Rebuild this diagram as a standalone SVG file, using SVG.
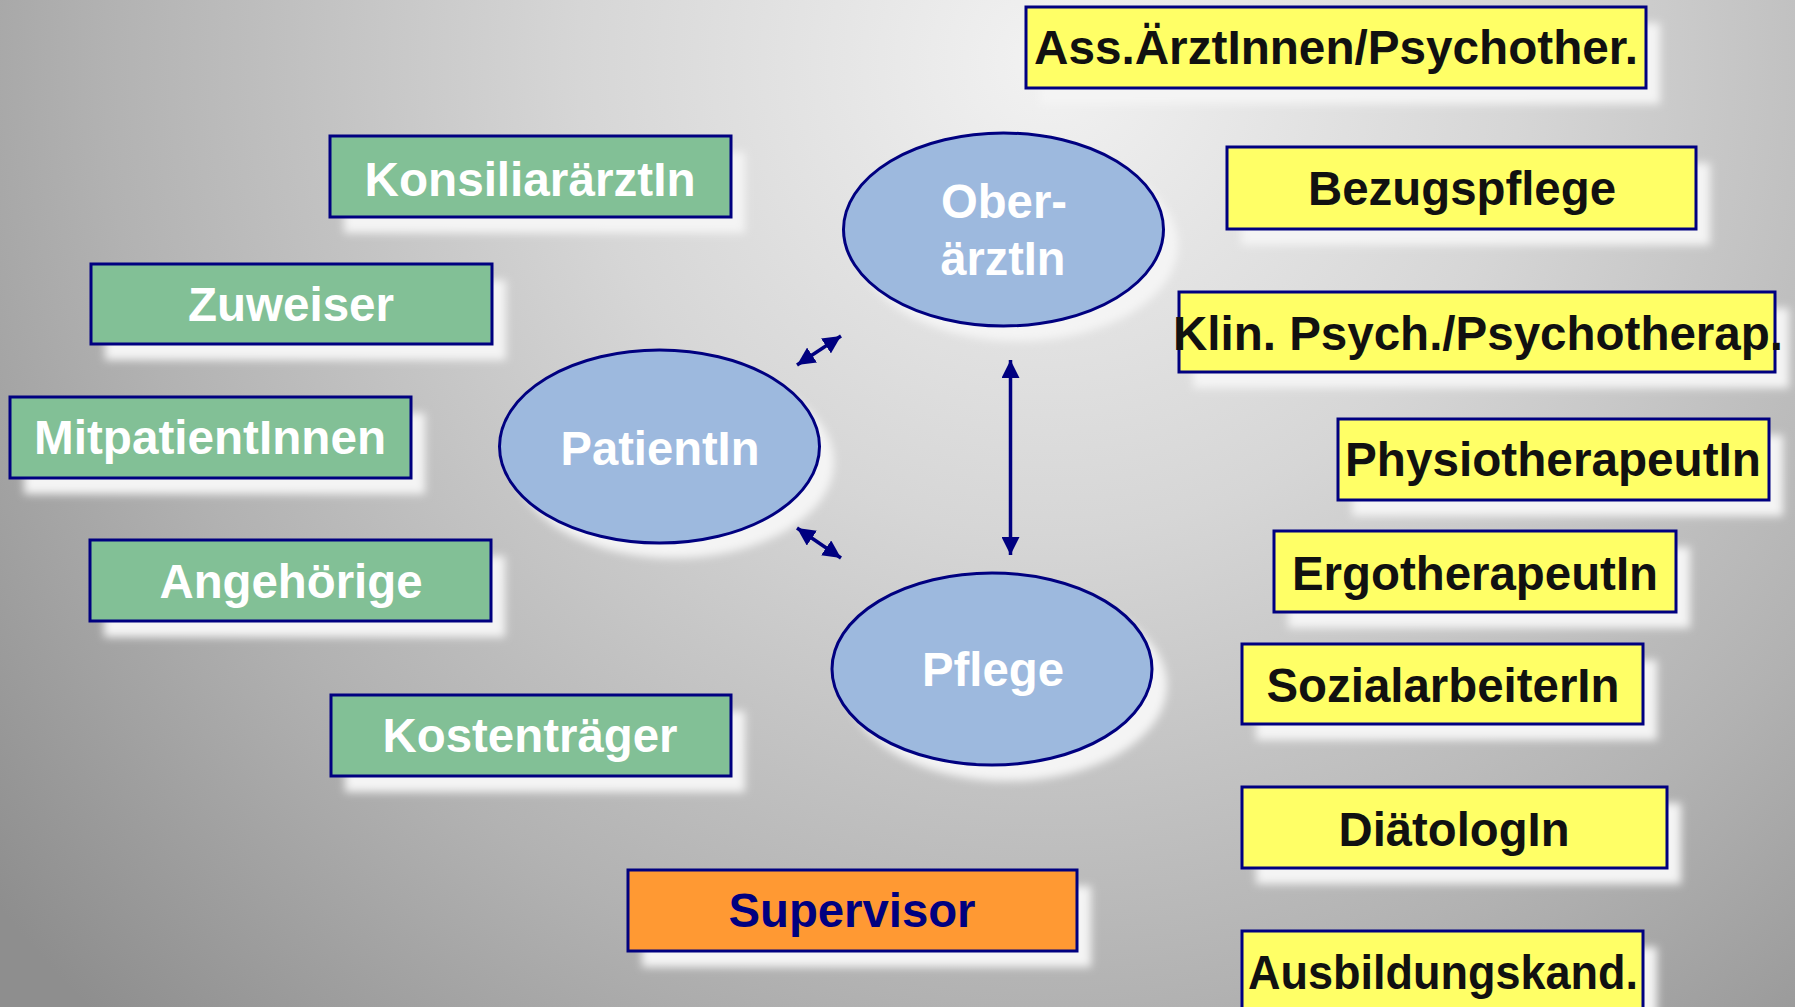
<svg xmlns="http://www.w3.org/2000/svg" width="1795" height="1007" viewBox="0 0 1795 1007">
<defs>
<radialGradient id="bg" gradientUnits="userSpaceOnUse" cx="1050" cy="60" r="1350" fx="1050" fy="60">
<stop offset="0" stop-color="#f2f2f2"/>
<stop offset="0.35" stop-color="#d6d6d6"/>
<stop offset="0.7" stop-color="#b2b2b2"/>
<stop offset="1" stop-color="#8e8e8e"/>
</radialGradient>
<filter id="blur" x="-20%" y="-40%" width="140%" height="180%">
<feGaussianBlur stdDeviation="4"/>
</filter>
<marker id="ah" viewBox="0 0 10 10" refX="10" refY="5" markerWidth="18" markerHeight="18" markerUnits="userSpaceOnUse" orient="auto-start-reverse">
<path d="M0,0 L10,5 L0,10 Z" fill="#000080"/>
</marker>
<style>
.sh{fill:#f4f4f4;filter:url(#blur)}
.g{fill:#82c096;stroke:#000080;stroke-width:3}
.y{fill:#ffff66;stroke:#000080;stroke-width:3}
.o{fill:#ff9933;stroke:#000080;stroke-width:3}
.e{fill:#9db9de;stroke:#000080;stroke-width:3}
text{font-family:"Liberation Sans",Arial,sans-serif;font-weight:bold;font-size:48px;text-anchor:middle}
.w{fill:#ffffff}
.k{fill:#111111}
.n{fill:#000080}
.c{stroke:#000080;stroke-width:3.5;fill:none;marker-start:url(#ah);marker-end:url(#ah)}
</style>
</defs>
<rect x="0" y="0" width="1795" height="1007" fill="url(#bg)"/>

<g id="konsiliar">
<rect class="sh" x="344" y="152" width="401" height="81"/>
<rect class="g" x="330" y="136" width="401" height="81"/>
<text class="w" x="530" y="196" textLength="331" lengthAdjust="spacingAndGlyphs">KonsiliarärztIn</text>
</g>
<g id="zuweiser">
<rect class="sh" x="105" y="280" width="401" height="80"/>
<rect class="g" x="91" y="264" width="401" height="80"/>
<text class="w" x="291" y="321" textLength="206" lengthAdjust="spacingAndGlyphs">Zuweiser</text>
</g>
<g id="mitpatienten">
<rect class="sh" x="24" y="413" width="401" height="81"/>
<rect class="g" x="10" y="397" width="401" height="81"/>
<text class="w" x="210" y="454" textLength="352" lengthAdjust="spacingAndGlyphs">MitpatientInnen</text>
</g>
<g id="angehoerige">
<rect class="sh" x="104" y="556" width="401" height="81"/>
<rect class="g" x="90" y="540" width="401" height="81"/>
<text class="w" x="291" y="598" textLength="263" lengthAdjust="spacingAndGlyphs">Angehörige</text>
</g>
<g id="kostentraeger">
<rect class="sh" x="345" y="711" width="400" height="81"/>
<rect class="g" x="331" y="695" width="400" height="81"/>
<text class="w" x="530" y="752" textLength="295" lengthAdjust="spacingAndGlyphs">Kostenträger</text>
</g>
<g id="supervisor">
<rect class="sh" x="642" y="886" width="449" height="81"/>
<rect class="o" x="628" y="870" width="449" height="81"/>
<text class="n" x="852" y="927" textLength="247" lengthAdjust="spacingAndGlyphs">Supervisor</text>
</g>

<g id="patient">
<ellipse class="sh" cx="674" cy="462" rx="160" ry="96"/>
<ellipse class="e" cx="659.5" cy="446.5" rx="160" ry="96.5"/>
<text class="w" x="660" y="465" textLength="199" lengthAdjust="spacingAndGlyphs">PatientIn</text>
</g>
<g id="oberarzt">
<ellipse class="sh" cx="1018" cy="245" rx="160" ry="96"/>
<ellipse class="e" cx="1003.5" cy="229.5" rx="160" ry="96.5"/>
<text class="w" x="1004" y="218" textLength="126" lengthAdjust="spacingAndGlyphs">Ober-</text>
<text class="w" x="1003" y="275" textLength="125" lengthAdjust="spacingAndGlyphs">ärztIn</text>
</g>
<g id="pflege">
<ellipse class="sh" cx="1007" cy="685" rx="160" ry="96"/>
<ellipse class="e" cx="992" cy="669" rx="160" ry="96"/>
<text class="w" x="993" y="686" textLength="142" lengthAdjust="spacingAndGlyphs">Pflege</text>
</g>

<g id="ass">
<rect class="sh" x="1040" y="23" width="620" height="81"/>
<rect class="y" x="1026" y="7" width="620" height="81"/>
<text class="k" x="1336" y="64" textLength="604" lengthAdjust="spacingAndGlyphs">Ass.ÄrztInnen/Psychother.</text>
</g>
<g id="bezugspflege">
<rect class="sh" x="1241" y="163" width="469" height="82"/>
<rect class="y" x="1227" y="147" width="469" height="82"/>
<text class="k" x="1462" y="205" textLength="308" lengthAdjust="spacingAndGlyphs">Bezugspflege</text>
</g>
<g id="klinpsych">
<rect class="sh" x="1193" y="308" width="596" height="80"/>
<rect class="y" x="1179" y="292" width="596" height="80"/>
<text class="k" x="1478" y="350" textLength="610" lengthAdjust="spacingAndGlyphs">Klin. Psych./Psychotherap.</text>
</g>
<g id="physio">
<rect class="sh" x="1352" y="435" width="431" height="81"/>
<rect class="y" x="1338" y="419" width="431" height="81"/>
<text class="k" x="1553" y="476" textLength="416" lengthAdjust="spacingAndGlyphs">PhysiotherapeutIn</text>
</g>
<g id="ergo">
<rect class="sh" x="1288" y="547" width="402" height="81"/>
<rect class="y" x="1274" y="531" width="402" height="81"/>
<text class="k" x="1475" y="590" textLength="366" lengthAdjust="spacingAndGlyphs">ErgotherapeutIn</text>
</g>
<g id="sozial">
<rect class="sh" x="1256" y="660" width="401" height="80"/>
<rect class="y" x="1242" y="644" width="401" height="80"/>
<text class="k" x="1443" y="702" textLength="353" lengthAdjust="spacingAndGlyphs">SozialarbeiterIn</text>
</g>
<g id="diaetolog">
<rect class="sh" x="1256" y="803" width="425" height="81"/>
<rect class="y" x="1242" y="787" width="425" height="81"/>
<text class="k" x="1454" y="846" textLength="231" lengthAdjust="spacingAndGlyphs">DiätologIn</text>
</g>
<g id="ausbildung">
<rect class="sh" x="1256" y="947" width="401" height="81"/>
<rect class="y" x="1242" y="931" width="401" height="81"/>
<text class="k" x="1443" y="989" textLength="390" lengthAdjust="spacingAndGlyphs">Ausbildungskand.</text>
</g>

<g id="connectors">
<line class="c" x1="797" y1="365" x2="841" y2="336"/>
<line class="c" x1="797" y1="528" x2="841" y2="558"/>
<line class="c" x1="1010.5" y1="360" x2="1010.5" y2="555"/>
</g>
</svg>
